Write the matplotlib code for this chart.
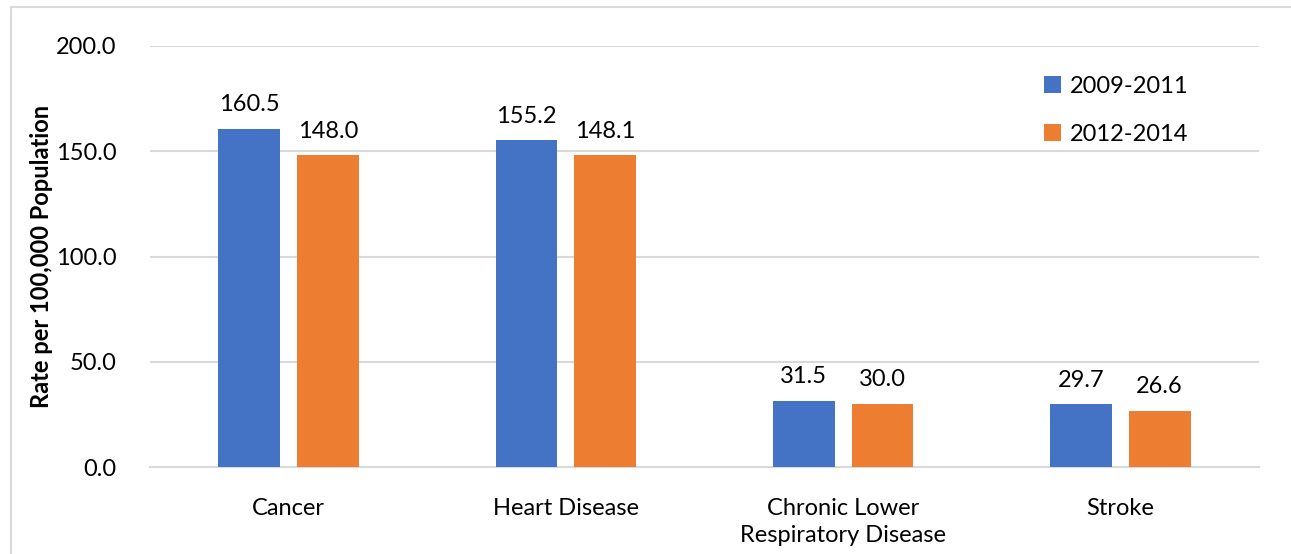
import numpy as np
import matplotlib.pyplot as plt
from matplotlib.patches import Rectangle

# Age-adjusted death rates for the leading causes, two periods
causes = ['Cancer', 'Heart Disease', 'Chronic Lower\nRespiratory Disease', 'Stroke']
periods = ['2009-2011', '2012-2014']
rates_2009_2011 = [160.5, 155.2, 31.5, 29.7]
rates_2012_2014 = [148.0, 148.1, 30.0, 26.6]
y_ticks = [0, 50, 100, 150, 200]

colors = ['#4472C4', '#ED7D31']
fs = 17

plt.rcParams['font.family'] = ['Lato', 'DejaVu Sans']

fig = plt.figure(figsize=(12.91, 5.54), dpi=100)
ax = fig.add_axes([0.1162, 0.157, 0.859, 0.760])

# light chart border around the whole graphic
fig.patches.append(Rectangle((11 / 1291, -0.05), 1.2, 1.05 - 6.5 / 554,
                             transform=fig.transFigure, fill=False,
                             edgecolor='#D9D9D9', linewidth=1.5))

x = np.arange(len(causes))
width = 0.223
offset = 0.142

series = [rates_2009_2011, rates_2012_2014]
for i, (vals, label) in enumerate(zip(series, periods)):
    pos = x + (offset if i else -offset)
    bars = ax.bar(pos, vals, width, color=colors[i], label=label, zorder=3)
    for b, v in zip(bars, vals):
        ax.text(b.get_x() + b.get_width() / 2, v + 6.5, f'{v:.1f}',
                ha='center', va='bottom', fontsize=fs, color='#000000')

ax.set_xlim(-0.5, len(causes) - 0.5)
ax.set_ylim(0, 200)
ax.set_yticks(y_ticks)
ax.set_yticklabels([f'{t:.1f}' for t in y_ticks], fontsize=fs)
ax.set_xticks(x)
ax.set_xticklabels(causes, fontsize=fs, linespacing=1.35)
ax.tick_params(axis='x', length=0, pad=22)
ax.tick_params(axis='y', length=0, pad=24)

ax.grid(axis='y', color='#D9D9D9', linewidth=1.5, zorder=0)
for s in ['top', 'right', 'left']:
    ax.spines[s].set_visible(False)
ax.spines['bottom'].set_color('#D9D9D9')
ax.spines['bottom'].set_linewidth(1.5)

ax.set_ylabel('Rate per 100,000 Population', fontsize=fs, fontweight='bold',
              labelpad=2)

ax.legend(loc='upper left', bbox_to_anchor=(0.787, 0.98), frameon=False,
          fontsize=fs, handlelength=0.7, handleheight=0.7,
          handletextpad=0.4, labelspacing=1.15)

fig.savefig('out.png', dpi=100)
